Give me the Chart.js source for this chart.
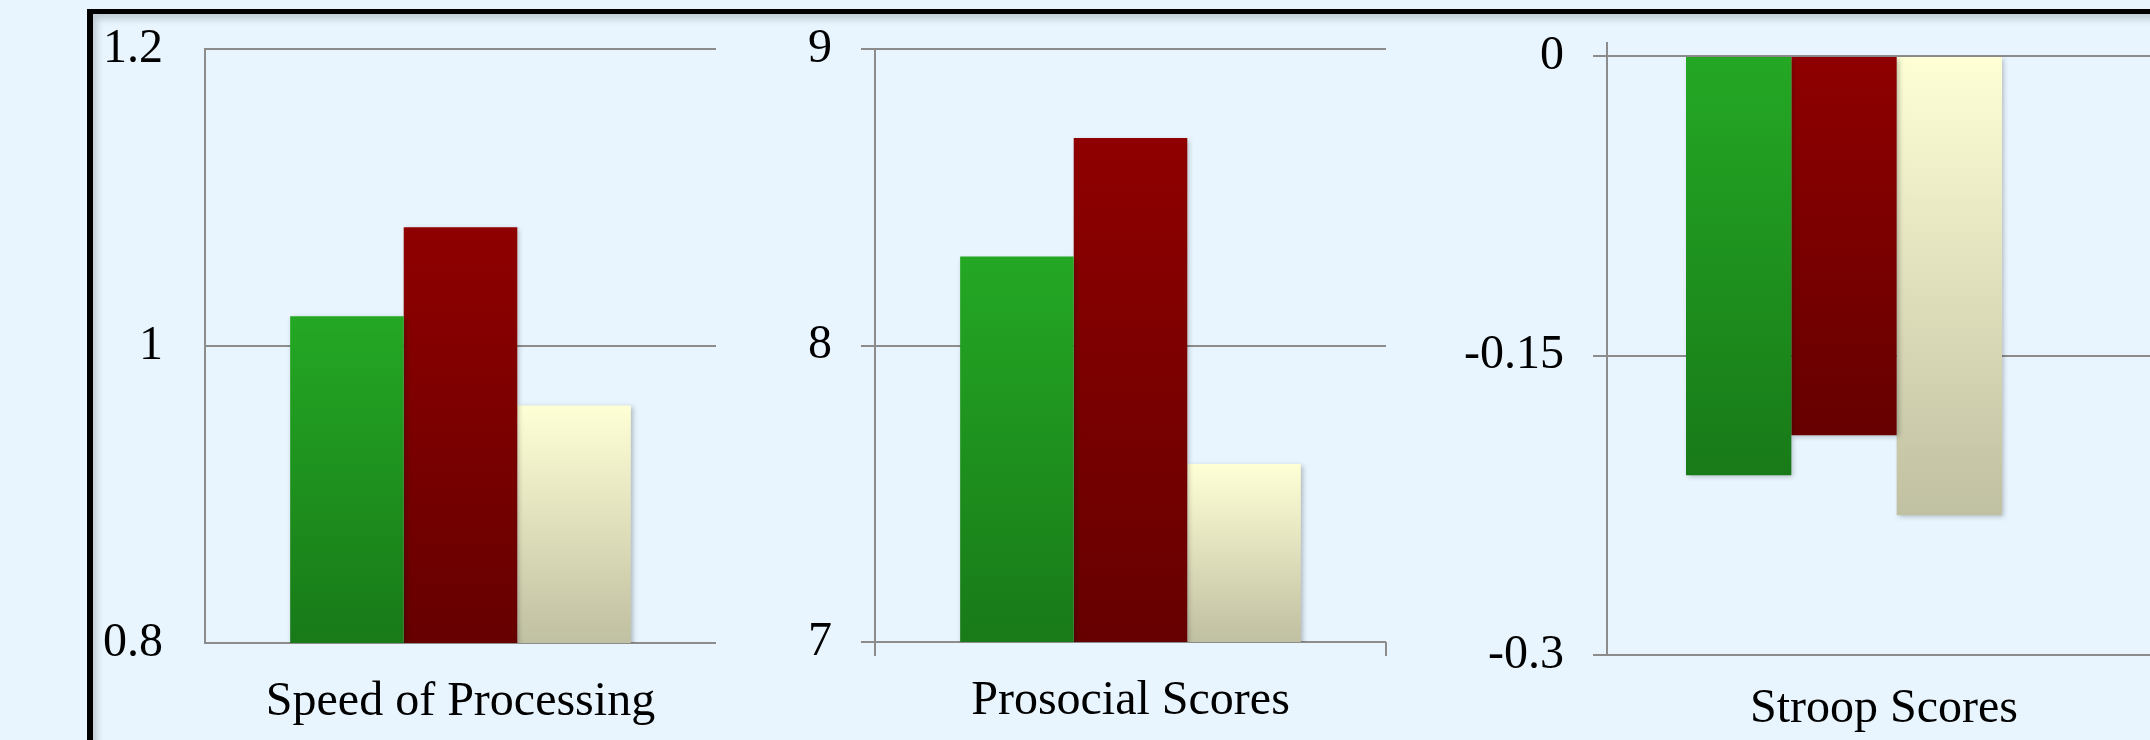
<!DOCTYPE html>
<html>
<head>
<meta charset="utf-8">
<script src="https://cdn.jsdelivr.net/npm/chart.js@4.4.1/dist/chart.umd.min.js"></script>
<style>
html,body{margin:0;padding:0;width:2150px;height:740px;overflow:hidden;background:#E8F5FF;}
#frame{position:absolute;left:87px;top:9px;width:2200px;height:800px;border-left:6px solid #000;border-top:5px solid #000;box-shadow:inset 4px 5px 7px rgba(0,0,0,0.18);}
canvas{position:absolute;top:0;}
</style>
</head>
<body>
<div id="frame"></div>
<canvas id="c1" width="645" height="740" style="left:95px"></canvas>
<canvas id="c2" width="650" height="740" style="left:760px"></canvas>
<canvas id="c3" width="720" height="740" style="left:1430px"></canvas>
<script>
// ---- data ----
const speedCategory = ['Speed of Processing'];
const prosocialCategory = ['Prosocial Scores'];
const stroopCategory = ['Stroop Scores'];

const seriesNames = ['Green group', 'Red group', 'Cream group'];

const speedValues = [1.02, 1.08, 0.96];
const prosocialValues = [8.30, 8.70, 7.60];
const stroopValues = [-0.21, -0.19, -0.23];

const speedTicks = [0.8, 1, 1.2];
const prosocialTicks = [7, 8, 9];
const stroopTicks = [-0.3, -0.15, 0];

// ---- styles ----
const GRID = '#8c8c8c';
const FONT = {family: "'Liberation Serif', 'Times New Roman', serif", size: 48};
const seriesTop = ['rgb(36,168,36)', 'rgb(143,0,0)', 'rgb(255,255,214)'];
const seriesBottom = ['rgb(24,122,24)', 'rgb(102,0,0)', 'rgb(192,192,162)'];

function gradientFill(i) {
  return (c) => {
    const chart = c.chart;
    if (!chart.chartArea || c.type !== 'data' || !c.parsed) return seriesTop[i];
    const ys = chart.scales.y;
    const a = ys.getPixelForValue(c.parsed.y);
    const b = ys.getBasePixel();
    const top = Math.min(a, b), bot = Math.max(a, b);
    if (bot - top < 1) return seriesTop[i];
    const g = chart.ctx.createLinearGradient(0, top, 0, bot);
    g.addColorStop(0, seriesTop[i]);
    g.addColorStop(1, seriesBottom[i]);
    return g;
  };
}

const barShadow = {
  id: 'barShadow',
  beforeDatasetsDraw(chart) {
    const ctx = chart.ctx;
    ctx.save();
    ctx.shadowColor = 'rgba(0,0,0,0.25)';
    ctx.shadowBlur = 5;
    ctx.shadowOffsetX = 2;
    ctx.shadowOffsetY = 2;
  },
  afterDatasetsDraw(chart) { chart.ctx.restore(); }
};

function makeDatasets(values) {
  return values.map((v, i) => ({
    label: seriesNames[i],
    data: [v],
    xAxisID: 'x',
    yAxisID: 'y',
    backgroundColor: gradientFill(i),
    borderWidth: 0,
    categoryPercentage: 2 / 3,
    barPercentage: 1
  }));
}

function setTicks(arr) {
  return (s) => { s.ticks = arr.map(v => ({value: v})); };
}
function fitY(w) {
  return (s) => { s.width = w; s.paddingTop = 0; s.paddingBottom = 0; };
}
function fitX(h) {
  return (s) => { s.height = h; s.paddingLeft = 0; s.paddingRight = 0; };
}

const common = {
  responsive: false,
  animation: false,
  devicePixelRatio: 1,
  plugins: {legend: {display: false}, tooltip: {enabled: false}}
};

// ---- panel 1 ----
new Chart(document.getElementById('c1'), {
  type: 'bar',
  data: {labels: speedCategory, datasets: makeDatasets(speedValues)},
  plugins: [barShadow],
  options: Object.assign({}, common, {
    layout: {padding: {top: 49, right: 24, bottom: 0, left: 0}},
    scales: {
      x: {
        grid: {display: false, drawTicks: false},
        border: {display: false},
        ticks: {font: FONT, color: '#000', padding: 31, maxRotation: 0, autoSkip: false},
        afterFit: fitX(97)
      },
      y: {
        min: speedTicks[0], max: speedTicks[speedTicks.length - 1],
        grid: {color: GRID, lineWidth: 2, drawTicks: false},
        border: {color: GRID, width: 2},
        ticks: {font: FONT, color: '#000', padding: 42, callback: v => String(v)},
        afterBuildTicks: setTicks(speedTicks),
        afterFit: fitY(110)
      }
    }
  })
});

// ---- panel 2 ----
new Chart(document.getElementById('c2'), {
  type: 'bar',
  data: {labels: prosocialCategory, datasets: makeDatasets(prosocialValues)},
  plugins: [barShadow],
  options: Object.assign({}, common, {
    layout: {padding: {top: 49, right: 24, bottom: 0, left: 0}},
    scales: {
      x: {
        offset: true,
        grid: {display: true, offset: true, drawOnChartArea: false, drawTicks: true, tickLength: 14, color: GRID, lineWidth: 2},
        border: {display: false},
        ticks: {font: FONT, color: '#000', padding: 17, maxRotation: 0, autoSkip: false},
        afterFit: fitX(98)
      },
      y: {
        min: prosocialTicks[0], max: prosocialTicks[prosocialTicks.length - 1],
        grid: {color: GRID, lineWidth: 2, drawTicks: true, tickLength: 14},
        border: {color: GRID, width: 2},
        ticks: {font: FONT, color: '#000', padding: 29, callback: v => String(v)},
        afterBuildTicks: setTicks(prosocialTicks),
        afterFit: fitY(115)
      }
    }
  })
});

// ---- panel 3 ----
new Chart(document.getElementById('c3'), {
  type: 'bar',
  data: {labels: stroopCategory, datasets: makeDatasets(stroopValues)},
  plugins: [barShadow],
  options: Object.assign({}, common, {
    layout: {padding: {top: 42, right: 0, bottom: 0, left: 0}},
    scales: {
      x: {
        type: 'category',
        position: 'bottom',
        grid: {display: false, drawTicks: false},
        border: {display: false},
        ticks: {font: FONT, color: '#000', padding: 26, labelOffset: 40, maxRotation: 0, autoSkip: false},
        afterFit: fitX(85)
      },
      xTop: {
        type: 'category',
        position: 'top',
        offset: true,
        grid: {
          display: true, offset: true, drawOnChartArea: false, drawTicks: true, tickLength: 14, lineWidth: 2,
          color: (c) => (c.type === 'tick' && c.index === 0) ? GRID : 'rgba(0,0,0,0)'
        },
        border: {display: false},
        ticks: {display: false},
        afterFit: fitX(14)
      },
      y: {
        type: 'linear',
        position: 'left',
        min: stroopTicks[0], max: stroopTicks[stroopTicks.length - 1],
        grid: {color: GRID, lineWidth: 2, drawTicks: true, tickLength: 14},
        border: {color: GRID, width: 2},
        ticks: {font: FONT, color: '#000', padding: 29, callback: v => String(v)},
        afterBuildTicks: setTicks(stroopTicks),
        afterFit: fitY(177)
      },
      yRight: {
        type: 'linear',
        position: 'right',
        min: stroopTicks[0], max: stroopTicks[stroopTicks.length - 1],
        grid: {color: GRID, lineWidth: 2, drawOnChartArea: false, drawTicks: true, tickLength: 69},
        border: {display: false},
        ticks: {display: false},
        afterBuildTicks: setTicks(stroopTicks),
        afterFit: fitY(69)
      }
    }
  })
});
</script>
</body>
</html>
